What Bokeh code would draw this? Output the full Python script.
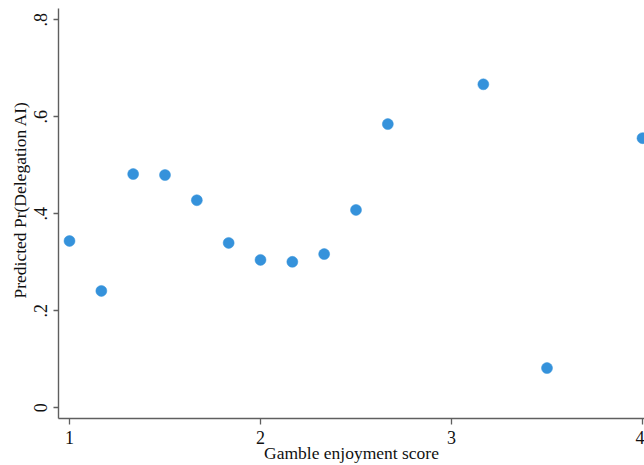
from bokeh.plotting import figure
from bokeh.models import Range1d, FixedTicker, Title
from bokeh.embed import file_html
from bokeh.resources import INLINE

# Data
gamble_score = [1.0, 1.1667, 1.3333, 1.5, 1.6667, 1.8333, 2.0, 2.1667,
                2.3333, 2.5, 2.6667, 3.1667, 3.5, 4.0]
pred_prob = [0.344, 0.241, 0.482, 0.480, 0.428, 0.340, 0.305, 0.301,
             0.317, 0.408, 0.585, 0.667, 0.082, 0.556]
x_ticks = [1, 2, 3, 4]
y_ticks = [0, 0.2, 0.4, 0.6, 0.8]
y_tick_labels = ["0", ".2", ".4", ".6", ".8"]
x_title = "Gamble enjoyment score"
y_title = "Predicted Pr(Delegation AI)"

FONT = "Liberation Serif"
AXIS_COL = "#5f5f5f"
TEXT_COL = "#111111"

x0, x1 = 0.9424, 4.0105
y0, y1 = -0.022, 0.8233

p = figure(width=644, height=465, output_backend="svg", toolbar_location=None,
           x_range=Range1d(x0, x1), y_range=Range1d(y0, y1),
           min_border_left=58, min_border_right=0, min_border_top=8,
           min_border_bottom=47)
p.outline_line_color = None
p.grid.visible = False
p.background_fill_color = "white"
p.border_fill_color = "white"

p.scatter(gamble_score, pred_prob, size=11, fill_color="#3592db",
          line_color="#3592db", line_width=0.5)

p.xaxis.ticker = FixedTicker(ticks=x_ticks)
p.yaxis.ticker = FixedTicker(ticks=y_ticks)
p.yaxis.major_label_overrides = {t: l for t, l in zip(y_ticks, y_tick_labels)}
p.yaxis.major_label_orientation = "vertical"

for ax in (p.xaxis[0], p.yaxis[0]):
    ax.axis_line_color = AXIS_COL
    ax.axis_line_width = 1.4
    ax.major_tick_line_color = AXIS_COL
    ax.major_tick_line_width = 1.3
    ax.major_tick_in = 0
    ax.minor_tick_line_color = None
    ax.major_label_text_font = FONT
    ax.major_label_text_font_size = "18px"
    ax.major_label_text_color = TEXT_COL
    ax.major_label_standoff = 6
p.xaxis.major_tick_out = 6
p.yaxis.major_tick_out = 5

# x title as axis label
p.xaxis.axis_label = x_title
p.xaxis.axis_label_text_font = FONT
p.xaxis.axis_label_text_font_size = "17.5px"
p.xaxis.axis_label_text_font_style = "normal"
p.xaxis.axis_label_text_color = TEXT_COL
p.xaxis.axis_label_standoff = -4

# y title as side title (positioned like the reference)
p.add_layout(Title(text=y_title, align="left", offset=120, standoff=4,
                   text_font=FONT, text_font_size="17.5px",
                   text_font_style="normal", text_color=TEXT_COL), "left")

open("out.html", "w").write(file_html(p, INLINE))
